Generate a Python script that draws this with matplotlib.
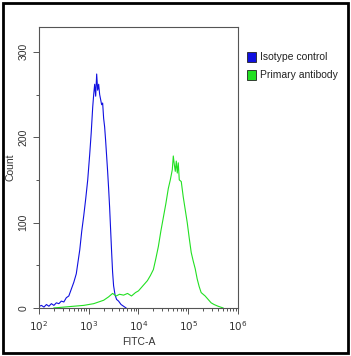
import numpy as np
import matplotlib
matplotlib.use('Agg')
import matplotlib.pyplot as plt
from matplotlib.patches import Rectangle

font = {'size': 7.5, 'family': 'Liberation Sans'}
matplotlib.rc('font', **font)

# log10(FITC-A) positions and counts
iso_logx = [2.00, 2.01, 2.05, 2.10, 2.15, 2.20, 2.25, 2.30, 2.35, 2.40, 2.45, 2.50,
            2.55, 2.60, 2.65, 2.70, 2.75, 2.78, 2.82, 2.86, 2.90, 2.94, 2.98, 3.02,
            3.05, 3.08, 3.10, 3.12, 3.14, 3.16, 3.18, 3.20, 3.22, 3.24, 3.26, 3.28,
            3.30, 3.32, 3.34, 3.36, 3.38, 3.40, 3.42, 3.44, 3.46, 3.48, 3.50, 3.53,
            3.56, 3.60, 3.65, 3.70, 3.75]
iso_count = [14, 2, 3, 1, 4, 2, 5, 3, 6, 5, 8, 7,
             12, 14, 22, 30, 40, 52, 68, 90, 108, 128, 150, 180,
             205, 235, 250, 262, 248, 274, 255, 262, 250, 244, 238, 240,
             222, 212, 196, 178, 160, 140, 118, 92, 66, 42, 26, 15,
             10, 8, 4, 2, 0]

prim_logx = [2.30, 2.50, 2.70, 2.90, 3.00, 3.10, 3.20, 3.30, 3.40, 3.48, 3.55, 3.62,
             3.70, 3.78, 3.86, 3.94, 4.00, 4.06, 4.12, 4.18, 4.24, 4.30, 4.35, 4.40,
             4.45, 4.50, 4.55, 4.60, 4.64, 4.68, 4.70, 4.72, 4.74, 4.76, 4.78, 4.80,
             4.82, 4.86, 4.90, 4.94, 4.98, 5.02, 5.06, 5.10, 5.14, 5.18, 5.22, 5.26,
             5.30, 5.34, 5.40, 5.46, 5.52, 5.60, 5.70]
prim_count = [0, 1, 2, 3, 4, 5, 7, 9, 13, 17, 14, 16,
              15, 17, 14, 18, 20, 24, 28, 32, 38, 45, 58, 72,
              90, 106, 122, 140, 150, 162, 178, 168, 160, 172, 158, 170,
              150, 148, 130, 115, 100, 82, 65, 55, 46, 34, 25, 18,
              16, 14, 10, 6, 4, 2, 0]

labels = ['Isotype control', 'Primary antibody']
colors = ['#1010e0', '#22e022']

fig = plt.figure(figsize=(3.51, 3.56), dpi=100)
ax = fig.add_axes([0.111, 0.135, 0.567, 0.789])

ax.plot(10 ** np.array(iso_logx), iso_count, color=colors[0], lw=0.8)
ax.plot(10 ** np.array(prim_logx), prim_count, color=colors[1], lw=0.8)

ax.set_xscale('log')
ax.set_xlim(1e2, 1e6)
ax.set_ylim(0, 329)
ax.set_xticks([1e2, 1e3, 1e4, 1e5, 1e6])
ax.set_xticklabels(['$10^{2}$', '$10^{3}$', '$10^{4}$', '$10^{5}$', '$10^{6}$'])
ax.set_yticks([0, 100, 200, 300])
ax.set_yticks(np.arange(0, 330, 50), minor=True)
for lab in ax.get_yticklabels():
    lab.set_rotation(90)
    lab.set_va('center')

for s in ax.spines.values():
    s.set_color('#555555')
    s.set_linewidth(0.8)
ax.tick_params(which='both', color='#555555', labelcolor='#333333', length=4, width=0.7)
ax.tick_params(which='minor', length=2.5)
ax.tick_params(axis='x', pad=4)

ax.set_xlabel('FITC-A', color='#333333', labelpad=3)
ax.set_ylabel('Count', color='#333333', labelpad=2)

# legend boxes drawn in figure coords
for i in range(2):
    y0 = 1 - (62 + i * 18) / 356.0
    fig.patches.append(Rectangle((247 / 351.0, y0), 9 / 351.0, 10 / 356.0,
                                 transform=fig.transFigure, facecolor=colors[i],
                                 edgecolor='#222222', lw=0.6))
    fig.text(260 / 351.0, y0 + 5 / 356.0, labels[i], va='center', ha='left',
             color='#222222', fontsize=7.5)

# outer frame
fig.patches.append(Rectangle((3 / 351.0, 3 / 356.0), 345 / 351.0, 350 / 356.0,
                             transform=fig.transFigure, fill=False,
                             edgecolor='black', lw=2))

fig.savefig('out.png', dpi=100)
